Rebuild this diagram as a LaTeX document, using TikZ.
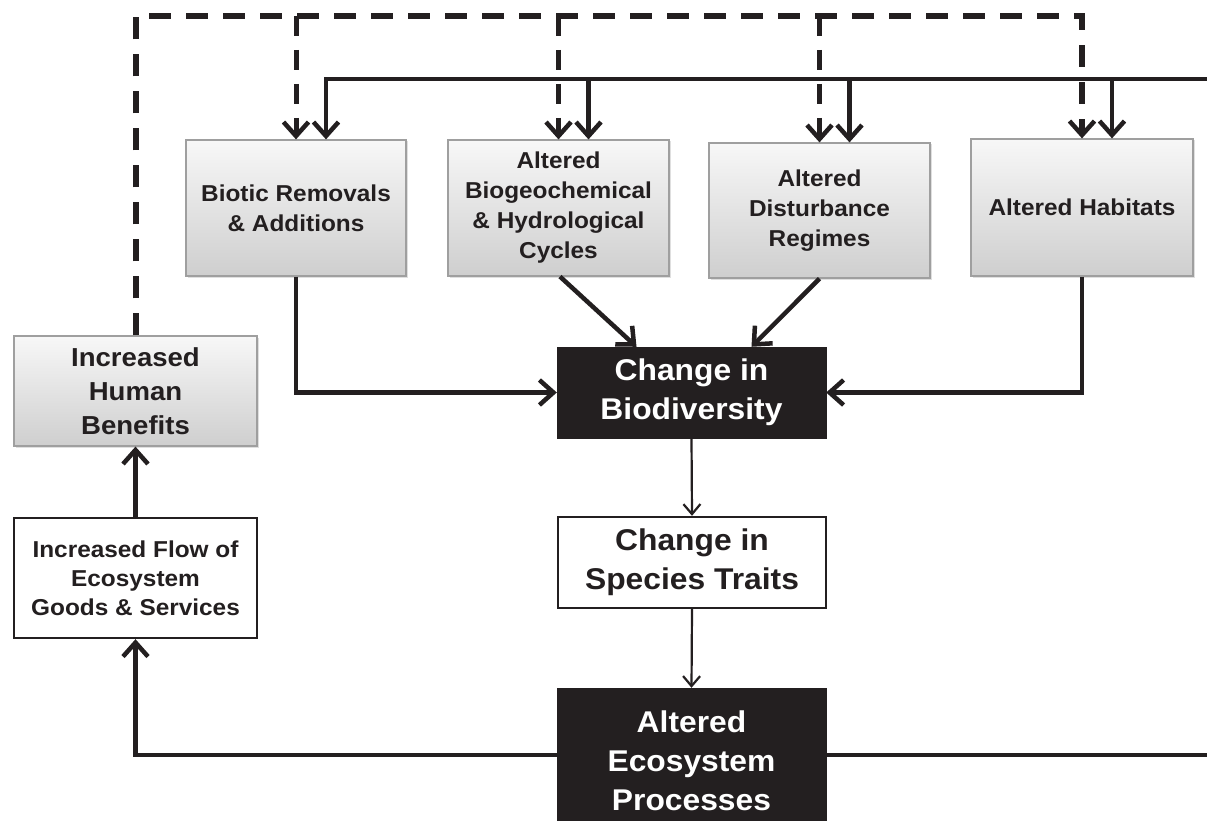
\documentclass[tikz,border=0pt]{standalone}
\usepackage{fontspec}
\setmainfont[FakeStretch=1.06]{Liberation Sans}
\usetikzlibrary{arrows.meta,shadows}
\definecolor{ink}{HTML}{231F20}
\begin{document}
\begin{tikzpicture}[x=1pt,y=-1pt,
  graybox/.style={draw=gray!75, line width=1.2pt, top color=gray!6, bottom color=gray!38,
    minimum width=221pt, minimum height=136pt, align=center, text=ink, inner sep=2pt,
    font=\bfseries\fontsize{23}{30}\selectfont,
    drop shadow={shadow xshift=1.5pt, shadow yshift=-1.5pt, opacity=0.25}},
  whitebox/.style={draw=ink, line width=2.4pt, fill=white, align=center, text=ink, inner sep=2pt},
  blackbox/.style={draw=ink, fill=ink, align=center, text=white, inner sep=2pt,
    minimum width=269pt, font=\bfseries\fontsize{30}{39}\selectfont},
  thk/.style={draw=ink, line width=4.5pt, -{Straight Barb[length=14pt,width=25pt]}},
  thkplain/.style={draw=ink, line width=4.5pt},
  thn/.style={draw=ink, line width=2.2pt, -{Straight Barb[length=10pt,width=17pt]}},
  dsh/.style={draw=ink, line width=6pt, dash pattern=on 22pt off 15pt,
    -{Straight Barb[length=14pt,width=25pt,line width=4.5pt]}},
  dshdrop/.style={draw=ink, line width=5pt, dash pattern=on 20pt off 14pt,
    -{Straight Barb[length=14pt,width=25pt,line width=4.5pt]}}
]
\useasboundingbox (0,0) rectangle (1207,821);

% nodes
\node[graybox, minimum width=220pt] (bio) at (296,208) {Biotic Removals\\\& Additions};
\node[graybox] (geo) at (558.5,208) {Altered\\Biogeochemical\\\& Hydrological\\Cycles};
\node[graybox, minimum height=135pt] (dist) at (819.5,210.5) {Altered\\Disturbance\\Regimes};
\node[graybox, minimum width=222pt, minimum height=137pt] (hab) at (1082,207.5) {Altered Habitats};
\node[graybox, minimum width=243pt, minimum height=110pt, font=\bfseries\fontsize{26}{34}\selectfont] (hum) at (135.5,391) {Increased\\Human\\Benefits};
\node[whitebox, minimum width=243pt, minimum height=120pt, font=\bfseries\fontsize{23}{29}\selectfont] (flow) at (135.5,578) {Increased Flow of\\Ecosystem\\Goods \& Services};
\node[blackbox, minimum height=91pt] (bdv) at (691.5,392.5) {Change in\\Biodiversity};
\node[whitebox, minimum width=268pt, minimum height=91pt, font=\bfseries\fontsize{30}{39}\selectfont] (trait) at (692,562.5) {Change in\\Species Traits};
\node[blackbox, minimum height=146pt] (aep) at (691.5,761) {Altered\\Ecosystem\\Processes};

% helper coordinates
\coordinate (dtop) at (0,16);
\coordinate (stop) at (0,79);
\coordinate (sr) at (1207,79);
\coordinate (er) at (1207,755);
\coordinate (bioin) at ([xshift=30pt]bio.north);
\coordinate (geoin) at ([xshift=30pt]geo.north);
\coordinate (distin) at ([xshift=30pt]dist.north);
\coordinate (habin) at ([xshift=30pt]hab.north);
\coordinate (aepl) at ([yshift=6pt]aep.west);
\coordinate (aepr) at ([yshift=6pt]aep.east);

% dashed feedback
\draw[dsh] (hum.north) |- (hab.north |- dtop) -- (hab.north);
\draw[dshdrop] (bio.north |- dtop) -- (bio.north);
\draw[dshdrop] (geo.north |- dtop) -- (geo.north);
\draw[dshdrop] (dist.north |- dtop) -- (dist.north);

% solid driver line
\draw[thk] (sr) -| (bioin);
\draw[thk] (geoin |- stop) -- (geoin);
\draw[thk] (distin |- stop) -- (distin);
\draw[thk] (habin |- stop) -- (habin);

% drivers to biodiversity
\draw[thk] (bio.south) |- (bdv.west);
\draw[thk] (hab.south) |- (bdv.east);
\draw[thk] ([xshift=1.5pt]geo.south) -- ([xshift=-55pt]bdv.north);
\draw[thk] (dist.south) -- ([xshift=60pt]bdv.north);

% main chain
\draw[thn] (bdv.south) -- (trait.north);
\draw[thn] (trait.south) -- (aep.north);

% outputs
\draw[thk] (aepl) -| (flow.south);
\draw[thkplain] (aepr) -- (er);
\draw[thk] (flow.north) -- (hum.south);
\end{tikzpicture}
\end{document}
